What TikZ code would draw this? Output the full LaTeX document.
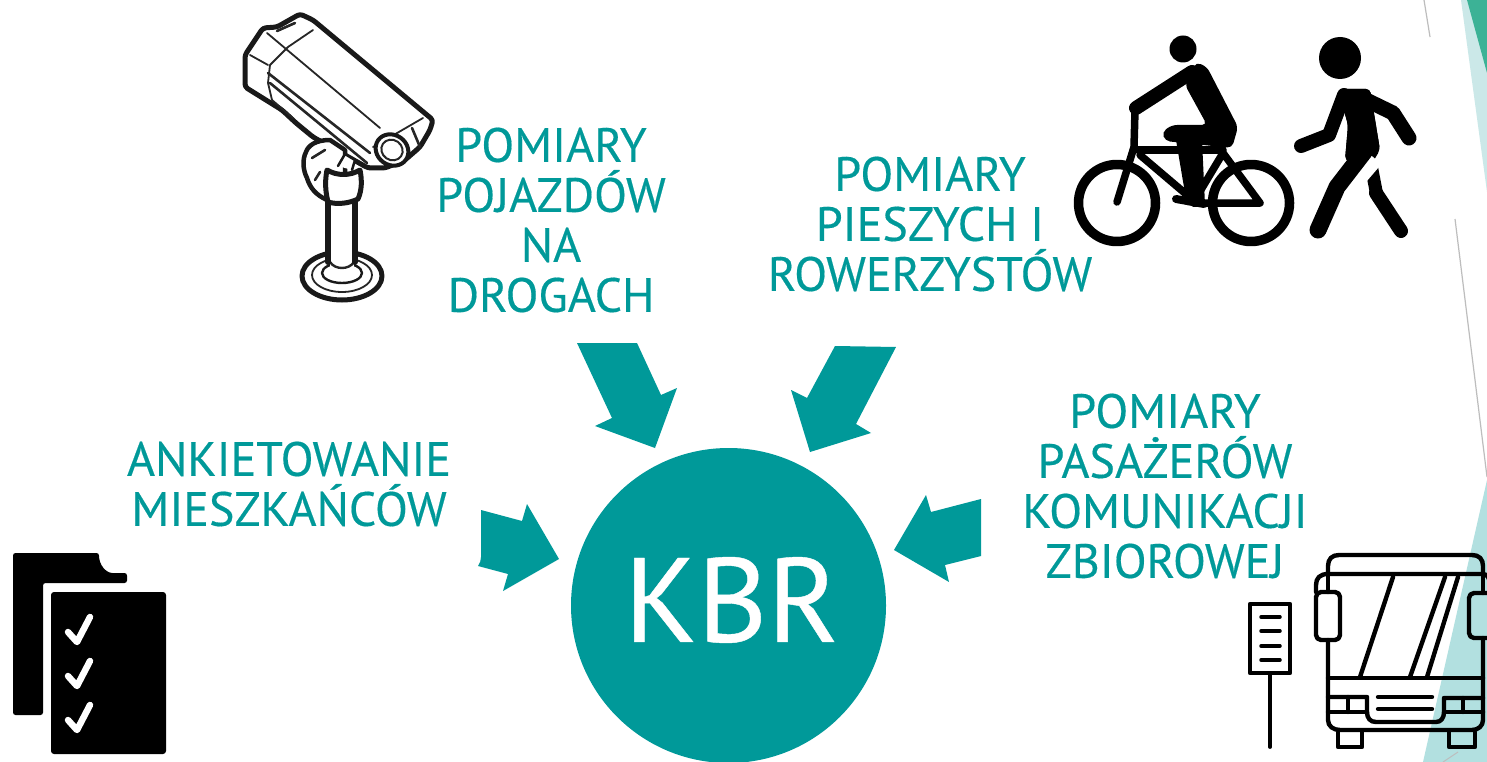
\documentclass[tikz,border=0pt]{standalone}
\usepackage{fontspec}
\setmainfont{PT Sans}[FakeBold=0.35]
\definecolor{teal1}{HTML}{009999}
\definecolor{lightA}{HTML}{CBE8E8}
\definecolor{lightB}{HTML}{B2E0E0}
\definecolor{greenA}{HTML}{3CB296}
\definecolor{greyL}{HTML}{BDBDBD}
\tikzset{
  lab/.style={text=teal1,align=center,inner sep=0pt,font=\fontsize{48}{50}\selectfont},
  blockarrow/.style={fill=teal1,draw=none},
  ink/.style={draw=black,line width=4.4pt,line cap=round,line join=round},
  camthick/.style={draw=black!90,line width=5pt,line cap=round,line join=round,fill=white},
  camthin/.style={draw=black!85,line width=1.8pt,line cap=round,line join=round},
  check/.style={draw=white,line width=6.5pt,line cap=round,line join=round},
  solid/.style={draw=black,line cap=round,line join=round}
}
\begin{document}
\begin{tikzpicture}[x=1pt,y=-1pt]
\clip (0,0) rectangle (1487,762);
\fill[white] (0,0) rectangle (1487,762);
% background decoration
\fill[lightA] (1461,0) -- (1487,192) -- (1487,0) -- cycle;
\fill[greenA] (1467,0) -- (1487,73) -- (1487,0) -- cycle;
\fill[lightB] (1487,480) -- (1423,762) -- (1487,762) -- cycle;
\draw[greyL,line width=1.2pt] (1424,0) -- (1430,37);
\draw[greyL,line width=1.2pt] (1455,219) -- (1475,380) -- (1487,477);
\draw[greyL,line width=1pt] (1443,762) -- (1458,752);
% hub
\node[circle,fill=teal1,minimum size=315pt,inner sep=0pt,text=white,font=\fontsize{120}{120}\selectfont] (hub) at (728.5,605.5) {\hspace*{6pt}\raisebox{12pt}{KBR}};
% block arrows
\fill[blockarrow] (577,343) -- (637,343) -- (661,395) -- (677,388) -- (655,448) -- (595,426) -- (612,418) -- cycle;
\fill[blockarrow] (835,346) -- (896,347) -- (856,424) -- (871,433) -- (810,452) -- (791,390) -- (807,398) -- cycle;
\fill[blockarrow] (481,510) -- (522,521) -- (527,504) -- (559,559) -- (503,591) -- (508,574) -- (478,566) .. controls (480,563) and (481,560) .. (481,557) -- cycle;
\fill[blockarrow] (981,499) -- (931,512) -- (926,495) -- (894,550) -- (949,582) -- (945,565) -- (981,556) -- cycle;
% labels
\node[lab] (vehicles) at (551,220) {POMIARY\\POJAZDÓW\\NA\\DROGACH};
\node[lab] (peds) at (930,224) {POMIARY\\PIESZYCH I\\ROWERZYSTÓW};
\node[lab] (survey) at (289,484) {ANKIETOWANIE\\MIESZKAŃCÓW};
\node[lab] (transit) at (1165,486) {POMIARY\\PASAŻERÓW\\KOMUNIKACJI\\ZBIOROWEJ};
% documents icon
\fill[black,rounded corners=2.5pt] (13,553) -- (99,553) .. controls (99,565) and (106,573) .. (115,573) -- (127,573) -- (127,583) -- (43,583) -- (43,715) -- (13,715) -- cycle;
\fill[black,rounded corners=3pt] (51,592) rectangle (166,754);
\draw[check] (68,632) -- (77,642) -- (90,617);
\draw[check] (68,676) -- (77,686) -- (90,661);
\draw[check] (68,720) -- (77,730) -- (90,705);
% bus stop
\draw[ink] (1250,604) rectangle (1290,673);
\foreach \yy in {617,631,646,660} \draw[ink,line width=3.5pt] (1261,\yy) -- (1280,\yy);
\draw[ink,line width=3.8pt] (1270,673) -- (1270,747);
% bus
\begin{scope}[ink]
\draw (1328,574) -- (1328,566) .. controls (1328,559) and (1332,555) .. (1339,555) -- (1472,555) .. controls (1479,555) and (1483,559) .. (1483,566) -- (1483,574);
\draw (1316,592) -- (1316,585) .. controls (1316,578) and (1320,574) .. (1328,574) -- (1483,574) .. controls (1487,574) and (1490,578) .. (1490,585);
\draw[rounded corners=5pt] (1316,592) rectangle (1340,640);
\draw[rounded corners=5pt] (1495,593) -- (1469,593) -- (1469,638) -- (1495,638);
\draw (1328,640) -- (1328,720) .. controls (1328,726) and (1333,730) .. (1340,730) -- (1472,730) .. controls (1478,730) and (1483,726) .. (1483,720) -- (1483,638);
\draw (1483,574) -- (1483,593);
\draw (1328,592) -- (1328,574);
\draw (1328,678) -- (1483,678);
\draw (1393,577) -- (1360,677);
\draw (1445,577) -- (1410,677);
\draw (1458,577) -- (1427,677);
\draw (1328,697) -- (1367,697) -- (1367,712) .. controls (1367,718) and (1370,722) .. (1376,722) -- (1436,722) .. controls (1441,722) and (1444,718) .. (1444,712) -- (1444,698) -- (1483,698);
\draw (1328,712) -- (1367,712);
\draw (1444,712) -- (1483,712);
\draw (1348,697) -- (1348,712);
\draw (1463,698) -- (1463,712);
\draw (1378,697) -- (1432,697);
\draw (1378,709) -- (1432,709);
\draw (1338,732) -- (1338,747) -- (1362,747) -- (1362,732);
\draw (1449,732) -- (1449,747) -- (1475,747) -- (1475,732);
\end{scope}
% cyclist
\fill[black] (1183,49) circle[radius=13.5];
\draw[solid,line width=9.5pt] (1117,203) circle[radius=38.5];
\draw[solid,line width=9.5pt] (1251,203) circle[radius=38.5];
\begin{scope}[solid,line width=7.5pt]
\draw (1135,110) -- (1134,147) -- (1117,202);
\draw (1138,150) -- (1223,150);
\draw (1140,155) -- (1193,200);
\draw (1223,153) -- (1260,203) -- (1193,203) -- (1223,153);
\end{scope}
\draw[solid,line width=14pt] (1192,72) -- (1136,108);
\fill[black,rounded corners=5pt] (1196,62) -- (1207,67) -- (1238,127) -- (1232,148) -- (1165,141) -- (1162,132) -- (1172,125) -- (1207,125) -- (1185,85) -- cycle;
\fill[black] (1176,140) -- (1202,140) -- (1205,205) -- (1187,205) -- cycle;
\draw[solid,line width=8pt] (1176,199) -- (1204,204);
% pedestrian
\fill[black] (1340,58) circle[radius=21];
\draw[solid,line width=13pt,line cap=butt] (1371,165) -- (1377,196);
\draw[solid,line width=14pt] (1376,193) -- (1401,231);
\fill[black,rounded corners=4pt] (1338,89) -- (1370,89) -- (1380,150) -- (1368,170) -- (1345,160) -- (1348,125) -- cycle;
\draw[solid,line width=14pt] (1301,146) -- (1329,135) -- (1344,95);
\draw[solid,line width=15pt] (1360,97) -- (1393,113) -- (1409,138);
\draw[white,line width=22pt,line cap=butt] (1373,157) -- (1343,192);
\fill[black,rounded corners=4pt] (1338,89) -- (1370,89) -- (1380,150) -- (1360,164) -- (1345,160) -- (1348,125) -- cycle;
\draw[solid,line width=17pt] (1364,152) -- (1337,187) -- (1318,230);
% camera
\draw[camthick,rounded corners=3pt] (245,87) -- (245,55) -- (263,28) -- (277,27) -- (300,14) -- (313,20) -- (433,120) -- (430,130) -- (420,147) -- (405,160) -- (385,168) -- (368,168) -- (313,137) -- (296,123) -- (282,110) -- cycle;
\draw[camthin] (250,55) -- (268,65);
\draw[camthin] (267,33) -- (380,128);
\draw[camthin] (313,30) -- (288,47) -- (270,65) -- (268,83) -- (272,100) -- (293,118);
\draw[camthin] (373,147) -- (423,118);
\draw[camthin,line width=2.6pt] (268,73) -- (370,153);
\draw[camthin,line width=2.6pt] (270,83) -- (367,163);
\draw[camthin,line width=2.6pt] (277,31) -- (295,23);
\draw[camthin,line width=2.6pt] (420,147) -- (412,128);
\draw[camthick,line width=4pt,rotate around={-35:(392,150)}] (392,150) ellipse[x radius=17,y radius=15];
\draw[camthin,line width=2pt,rotate around={-35:(392,150)}] (392,150) ellipse[x radius=11,y radius=10];
\draw[camthick,line width=4.5pt] (330,140) .. controls (315,140) and (308,146) .. (306,152) .. controls (302,160) and (303,170) .. (307,178) .. controls (310,188) and (316,195) .. (327,200) -- (345,175) -- (345,150) -- cycle;
\draw[camthin,line width=2.6pt] (312,158) -- (325,150);
\draw[camthin,line width=2.6pt] (315,180) -- (320,172);
\draw[camthick] (342,276) ellipse[x radius=40,y radius=24];
\draw[camthin] (342,275) ellipse[x radius=30,y radius=17];
\draw[camthick,line width=2.4pt] (342,273) ellipse[x radius=20,y radius=10];
\fill[white] (330,198) rectangle (354,268);
\draw[camthin,line width=2.4pt] (330,262) .. controls (335,270) and (349,270) .. (354,262);
\draw[camthick,fill=none,line width=6pt] (328,200) -- (328,262);
\draw[camthick,fill=none,line width=6pt] (355,198) -- (355,262);
\draw[camthick] (327,170) .. controls (325,180) and (325,190) .. (328,202) .. controls (338,205) and (350,203) .. (358,199) .. controls (362,190) and (362,180) .. (360,170) .. controls (350,176) and (337,176) .. (327,170) -- cycle;
\draw[camthick,line width=2.5pt] (338,166) -- (345,154) -- (355,160) -- (352,170);
\end{tikzpicture}
\end{document}
